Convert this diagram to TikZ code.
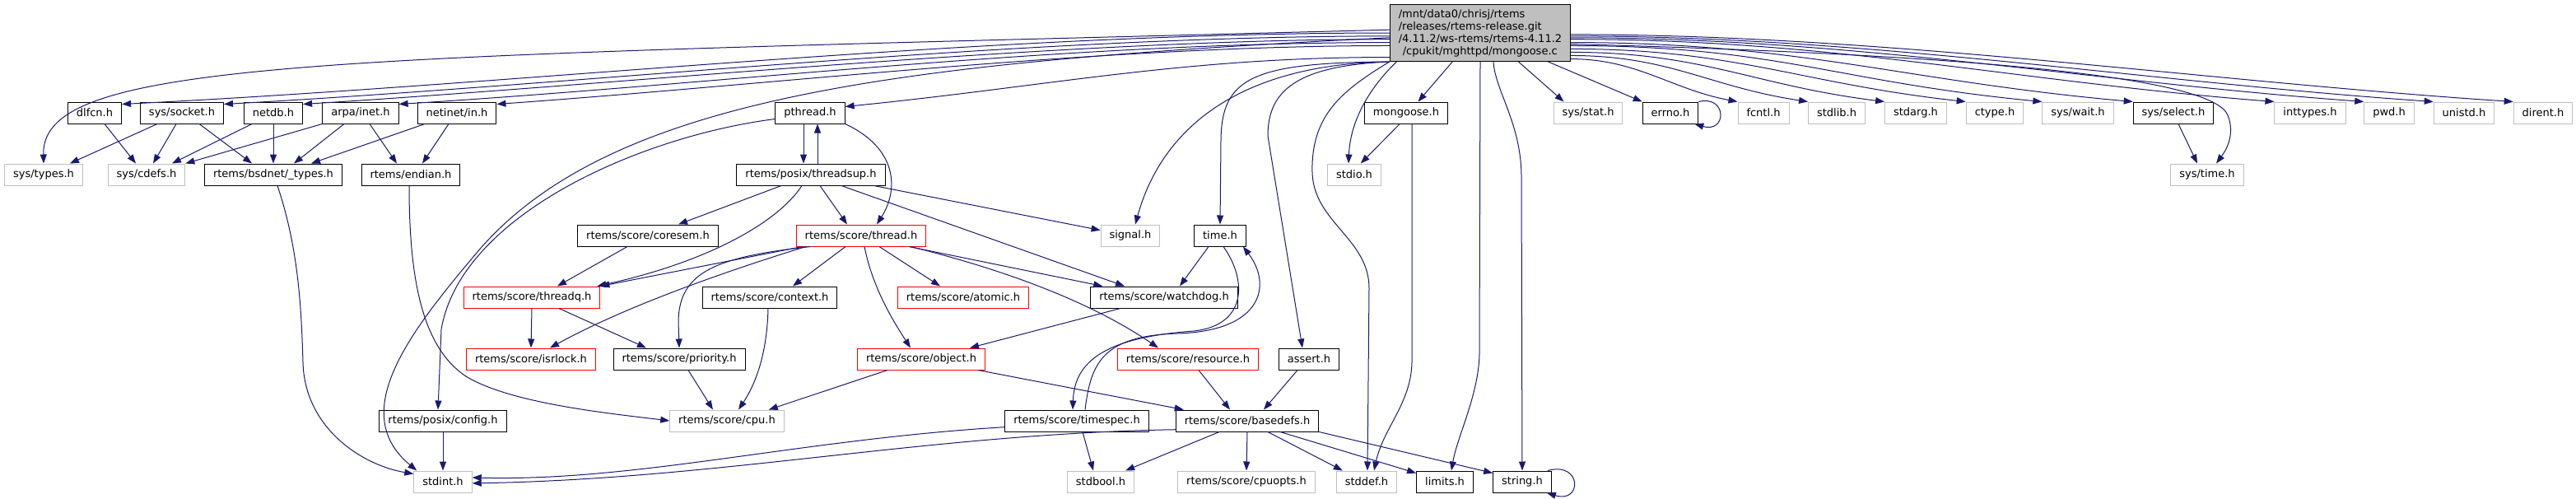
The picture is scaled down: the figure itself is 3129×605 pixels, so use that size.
\documentclass[tikz,border=0pt]{standalone}
\usepackage{fontspec}
\setmainfont{DejaVu Sans}
\usetikzlibrary{arrows.meta}

\definecolor{edgeblue}{RGB}{25,25,112}
\definecolor{grey75}{RGB}{191,191,191}

\begin{document}
\begin{tikzpicture}[x=1pt, y=-1pt, >={Triangle[length=11pt,width=8pt]},
    box/.style={draw, line width=1pt, fill=white, minimum height=26pt,
        inner xsep=10.5pt, inner ysep=2pt, font=\fontsize{13pt}{15pt}\selectfont},
    hdr/.style={box, draw=black},
    sys/.style={box, draw=grey75},
    cut/.style={box, draw=red},
    srcfile/.style={box, draw=black, fill=grey75, align=left, minimum height=69pt},
    inc/.style={->, draw=edgeblue, line width=1pt}]

    \useasboundingbox (0,0) rectangle (3129,605);

    % 1. The source file
    \node[srcfile] (M) at (1798,40) {/mnt/data0/chrisj/rtems\\/releases/rtems-release.git\\/4.11.2/ws-rtems/rtems-4.11.2\\\hspace{5pt}/cpukit/mghttpd/mongoose.c};

    % 2. First row of headers
    \node[hdr] (dlfcn) at (115,137) {dlfcn.h};
    \node[hdr] (syssocket) at (221,137) {sys/socket.h};
    \node[hdr] (netdb) at (332,137) {netdb.h};
    \node[hdr] (arpainet) at (438,137) {arpa/inet.h};
    \node[hdr] (netinetin) at (555,137) {netinet/in.h};
    \node[hdr] (pthread) at (984,137) {pthread.h};
    \node[hdr] (mongoose) at (1708,137) {mongoose.h};
    \node[sys] (sysstat) at (1929,137) {sys/stat.h};
    \node[hdr] (errno) at (2029,137) {errno.h};
    \node[sys] (fcntl) at (2142,137) {fcntl.h};
    \node[sys] (stdlib) at (2231,137) {stdlib.h};
    \node[sys] (stdarg) at (2327,137) {stdarg.h};
    \node[sys] (ctype) at (2423,137) {ctype.h};
    \node[sys] (syswait) at (2524,137) {sys/wait.h};
    \node[hdr] (sysselect) at (2640,137) {sys/select.h};
    \node[sys] (inttypes) at (2806,137) {inttypes.h};
    \node[sys] (pwd) at (2902,137) {pwd.h};
    \node[sys] (unistd) at (2993,137) {unistd.h};
    \node[sys] (dirent) at (3089,137) {dirent.h};

    % 3. Second row
    \node[sys] (systypes) at (53,212) {sys/types.h};
    \node[sys] (syscdefs) at (178,212) {sys/cdefs.h};
    \node[hdr] (bsdtypes) at (332,212) {rtems/bsdnet/\_types.h};
    \node[hdr] (endian) at (499,212) {rtems/endian.h};
    \node[hdr] (threadsup) at (985,212) {rtems/posix/threadsup.h};
    \node[sys] (stdio) at (1645,212) {stdio.h};
    \node[sys] (systime) at (2681,212) {sys/time.h};

    % 4. The score headers
    \node[hdr] (coresem) at (787,286) {rtems/score/coresem.h};
    \node[cut] (thread) at (1046,286) {rtems/score/thread.h};
    \node[sys] (signal) at (1373,286) {signal.h};
    \node[hdr] (timeh) at (1482,286) {time.h};

    \node[cut] (threadq) at (646,361) {rtems/score/threadq.h};
    \node[hdr] (context) at (935,361) {rtems/score/context.h};
    \node[cut] (atomic) at (1170,361) {rtems/score/atomic.h};
    \node[hdr] (watchdog) at (1414,361) {rtems/score/watchdog.h};

    \node[cut] (isrlock) at (645,436) {rtems/score/isrlock.h};
    \node[hdr] (priority) at (825,436) {rtems/score/priority.h};
    \node[cut] (object) at (1119,436) {rtems/score/object.h};
    \node[cut] (resource) at (1443,436) {rtems/score/resource.h};
    \node[hdr] (assert) at (1590,436) {assert.h};

    \node[hdr] (config) at (538,511) {rtems/posix/config.h};
    \node[sys] (cpu) at (883,511) {rtems/score/cpu.h};
    \node[hdr] (timespec) at (1308,511) {rtems/score/timespec.h};
    \node[hdr] (basedefs) at (1515,511) {rtems/score/basedefs.h};

    % 5. Bottom row
    \node[sys] (stdint) at (538,585) {stdint.h};
    \node[sys] (stdbool) at (1337,585) {stdbool.h};
    \node[sys] (cpuopts) at (1514,585) {rtems/score/cpuopts.h};
    \node[sys] (stddef) at (1660,585) {stddef.h};
    \node[hdr] (limits) at (1755,585) {limits.h};
    \node[hdr] (string) at (1849,585) {string.h};

    % 6. Includes of the source file, left side
    \draw[inc] (M.178) .. controls (400,70) and (50,70) .. (systypes.north);
    \draw[inc] (M.180) .. controls +(-500,0) and +(500,-25) .. ([yshift=-3pt]dlfcn.north east);
    \draw[inc] (M.182) .. controls +(-450,0) and +(450,-25) .. ([yshift=-3pt]syssocket.north east);
    \draw[inc] (M.184) .. controls +(-400,0) and +(400,-25) .. ([yshift=-3pt]netdb.north east);
    \draw[inc] (M.186) .. controls +(-400,0) and +(400,-25) .. ([yshift=-3pt]arpainet.north east);
    \draw[inc] (M.188) .. controls +(-350,0) and +(350,-25) .. ([yshift=-3pt]netinetin.north east);
    \draw[inc] (M.183) .. controls (1100,75) and (750,115) .. (585,300)
        .. controls (500,400) and (420,500) .. ([xshift=4pt]stdint.north west);
    \draw[inc] (M.195) .. controls +(-250,0) and +(250,-25) .. (pthread.10);

    % 7. Includes of the source file, downwards
    \draw[inc] (M.226) -- (mongoose.43);
    \draw[inc] (M.199) .. controls (1660,110) and (1640,150) .. ([xshift=-7pt]stdio.north);
    \draw[inc] (M.south west) .. controls (1500,78) and (1410,160) .. ([xshift=6pt]signal.north);
    \draw[inc] (M.south west) .. controls (1520,76) and (1484,95) .. (1483,170) -- (timeh.north);
    \draw[inc] (M.south west) .. controls (1575,80) and (1540,110) .. (1540,165) -- ([xshift=-8pt]assert.north);
    \draw[inc] (M.south west) .. controls (1630,110) and (1592,140) .. (1594,210)
        .. controls (1596,270) and (1663,290) .. (1663,350) -- ([xshift=1pt]stddef.north);
    \draw[inc] (M.south) -- (1797,430) .. controls (1796,480) and (1770,530) .. ([xshift=8pt]limits.north);
    \draw[inc] ([xshift=16pt]M.south) .. controls (1816,110) and (1848,150) .. (1848,215) -- (string.north);
    \draw[inc] (M.-37) -- ([xshift=13pt]sysstat.north west);
    \draw[inc] (M.-23) -- (errno.north west);

    % 8. Includes of the source file, right side
    \draw[inc] (M.-16) .. controls +(80,0) and +(-80,-15) .. (fcntl.north west);
    \draw[inc] (M.-14) .. controls +(120,0) and +(-120,-18) .. (stdlib.north west);
    \draw[inc] (M.-12) .. controls +(160,0) and +(-160,-20) .. (stdarg.north west);
    \draw[inc] (M.-10) .. controls +(200,0) and +(-200,-22) .. (ctype.north west);
    \draw[inc] (M.-8) .. controls +(250,0) and +(-250,-24) .. (syswait.north west);
    \draw[inc] (M.-6) .. controls +(280,0) and +(-280,-25) .. (sysselect.north west);
    \draw[inc] (M.-7) .. controls (2450,68) and (2690,98) .. (2706,140)
        .. controls (2716,165) and (2702,185) .. ([xshift=11pt]systime.north);
    \draw[inc] (M.-4) .. controls +(320,0) and +(-320,-25) .. (inttypes.north west);
    \draw[inc] (M.-3) .. controls +(340,0) and +(-340,-25) .. (pwd.north west);
    \draw[inc] (M.-2) .. controls +(360,0) and +(-360,-25) .. (unistd.north west);
    \draw[inc] (M.-1) .. controls +(380,0) and +(-380,-25) .. (dirent.north west);

    % 9. Self includes
    \draw[inc] (errno.north east) .. controls (2098,115) and (2098,162) .. ([xshift=-5pt]errno.south east);
    \draw[inc] ([xshift=-5pt]string.north east) .. controls (1922,560) and (1922,612) .. ([xshift=-6pt]string.south east);

    % 10. Network headers
    \draw[inc] ([xshift=12pt]dlfcn.south) -- ([xshift=-13pt]syscdefs.north);
    \draw[inc] ([xshift=-30pt]syssocket.south) -- ([xshift=-16pt]systypes.north east);
    \draw[inc] ([xshift=-7pt]syssocket.south) -- ([xshift=8pt]syscdefs.north);
    \draw[inc] ([xshift=21pt]syssocket.south) -- ([xshift=-26pt]bsdtypes.north);
    \draw[inc] ([xshift=-26pt]netdb.south) -- ([xshift=31pt]syscdefs.north);
    \draw[inc] (netdb.south) -- (bsdtypes.north);
    \draw[inc] (arpainet.south west) -- (syscdefs.north east);
    \draw[inc] ([xshift=-20pt]arpainet.south) -- ([xshift=25pt]bsdtypes.north);
    \draw[inc] ([xshift=11pt]arpainet.south) -- ([xshift=-17pt]endian.north);
    \draw[inc] ([xshift=-39pt]netinetin.south) -- ([xshift=46pt]bsdtypes.north);
    \draw[inc] ([xshift=-10pt]netinetin.south) -- ([xshift=14pt]endian.north);
    \draw[inc] ([xshift=5pt]bsdtypes.south) .. controls (362,300) and (366,370) .. (368,440)
        .. controls (370,520) and (440,565) .. (stdint.165);
    \draw[inc] ([xshift=-2pt]endian.south) .. controls (497,330) and (510,420) .. (566,457)
        .. controls (620,490) and (740,502) .. (cpu.west);

    % 11. pthread.h and threadsup.h
    \draw[inc] ([xshift=-8pt]pthread.south) -- ([xshift=-9pt]threadsup.north);
    \draw[inc] ([xshift=8pt]threadsup.north) -- ([xshift=9pt]pthread.south);
    \draw[inc] (pthread.south east) .. controls (1090,180) and (1092,230) .. ([xshift=19pt]thread.north);
    \draw[inc] (pthread.190) .. controls (780,165) and (560,260) .. (536,400) -- ([xshift=-6pt]config.north);
    \draw[inc] ([xshift=-36pt]threadsup.south) -- ([xshift=37pt]coresem.north);
    \draw[inc] ([xshift=-11pt]threadsup.south) .. controls (945,270) and (860,318) .. ([xshift=-4pt]threadq.north east);
    \draw[inc] ([xshift=11pt]threadsup.south) -- ([xshift=-17pt]thread.north);
    \draw[inc] ([xshift=37pt]threadsup.south) -- ([xshift=-48pt]watchdog.north);
    \draw[inc] ([xshift=-14pt]threadsup.south east) -- (signal.170);
    \draw[inc] ([xshift=-25pt]coresem.south) -- ([xshift=31pt]threadq.north);

    % 12. thread.h
    \draw[inc] ([xshift=8pt]thread.south west) -- (threadq.north east);
    \draw[inc] ([xshift=12pt]thread.south west) .. controls (880,330) and (760,372) .. ([xshift=23pt]isrlock.north);
    \draw[inc] ([xshift=18pt]thread.south west) .. controls (870,312) and (825,330) .. (824,390) -- (priority.north);
    \draw[inc] ([xshift=-19pt]thread.south) -- ([xshift=28pt]context.north);
    \draw[inc] ([xshift=22pt]thread.south) -- ([xshift=-28pt]atomic.north);
    \draw[inc] ([xshift=58pt]thread.south) -- ([xshift=15pt]watchdog.north west);
    \draw[inc] ([xshift=60pt]thread.south) .. controls (1230,330) and (1330,370) .. ([xshift=-36pt]resource.north);
    \draw[inc] ([xshift=4pt]thread.south) .. controls (1060,350) and (1085,390) .. ([xshift=-13pt]object.north);

    % 13. time.h and timespec.h
    \draw[inc] ([xshift=-14pt]timeh.south) -- ([xshift=19pt]watchdog.north);
    \draw[inc] ([xshift=4pt]timeh.south) .. controls (1515,340) and (1515,395) .. (1450,402)
        .. controls (1340,410) and (1305,440) .. ([xshift=-5pt]timespec.north);
    \draw[inc] ([xshift=10pt]timespec.north) .. controls (1325,440) and (1340,408) .. (1430,405)
        .. controls (1535,402) and (1545,345) .. ([xshift=-4pt]timeh.south east);

    % 14. Lower score headers
    \draw[inc] (threadq.south) -- (isrlock.north);
    \draw[inc] ([xshift=33pt]threadq.south) -- ([xshift=-40pt]priority.north);
    \draw[inc] ([xshift=-53pt]watchdog.south) -- ([xshift=59pt]object.north);
    \draw[inc] ([xshift=-41pt]object.south) -- ([xshift=-19pt]cpu.north east);
    \draw[inc] ([xshift=69pt]object.south) -- ([xshift=10pt]basedefs.north west);
    \draw[inc] ([xshift=11pt]priority.south) -- ([xshift=-17pt]cpu.north);
    \draw[inc] ([xshift=-2pt]context.south) .. controls (932,420) and (922,460) .. ([xshift=14pt]cpu.north);
    \draw[inc] ([xshift=13pt]resource.south) -- ([xshift=-21pt]basedefs.north);
    \draw[inc] ([xshift=-14pt]assert.south) -- ([xshift=20pt]basedefs.north);

    % 15. Down to the bottom row
    \draw[inc] (config.south) -- (stdint.north);
    \draw[inc] (timespec.185) .. controls +(-250,15) and +(200,5) .. (stdint.8);
    \draw[inc] (basedefs.187) .. controls +(-300,5) and +(300,-5) .. (stdint.-3);
    \draw[inc] ([xshift=7pt]timespec.south) -- ([xshift=-9pt]stdbool.north);
    \draw[inc] ([xshift=-34pt]basedefs.south) -- ([xshift=-11pt]stdbool.north east);
    \draw[inc] (basedefs.south) -- (cpuopts.north);
    \draw[inc] ([xshift=25pt]basedefs.south) -- ([xshift=8pt]stddef.north west);
    \draw[inc] ([xshift=40pt]basedefs.south) -- ([yshift=-3pt]limits.north west);
    \draw[inc] (basedefs.south east) -- ([yshift=-3pt]string.north west);
    \draw[inc] ([xshift=7pt]mongoose.south) -- (1715,440) .. controls (1714,490) and (1680,520) .. ([xshift=9pt]stddef.north);
    \draw[inc] (mongoose.240) -- (stdio.60);
    \draw[inc] ([xshift=6pt]sysselect.south) -- ([xshift=-12pt]systime.north);
\end{tikzpicture}
\end{document}
